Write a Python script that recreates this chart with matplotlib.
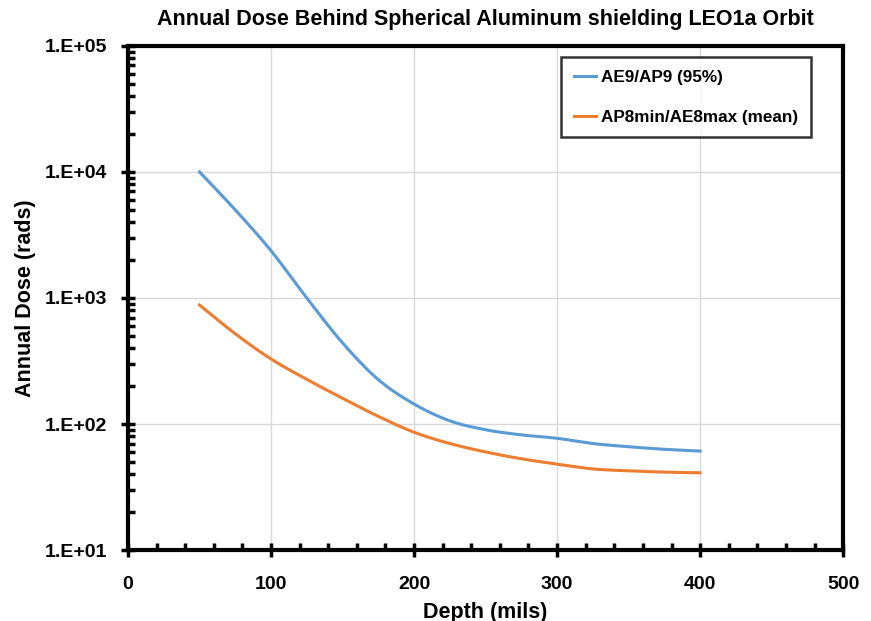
import math
import numpy as np
import matplotlib
matplotlib.use("Agg")
import matplotlib.pyplot as plt
from matplotlib.ticker import FixedLocator, FuncFormatter, LogLocator, MultipleLocator

plt.rcParams['font.family'] = ['Liberation Sans', 'DejaVu Sans']
plt.rcParams['font.weight'] = 'bold'

# values
depth = [50, 75, 100, 125, 150, 175, 200, 225, 250, 275, 300, 325, 350, 375, 400]
ae9_ap9 = [10000, 5000, 2370, 1000, 440, 225, 144, 106, 90, 82, 77, 70, 66, 63, 61]
ap8_ae8 = [879, 520, 328, 226, 160, 115, 86, 70, 60, 53, 48, 44, 42.5, 41.5, 41]


def smooth(xs, ys, n=20):
    # Excel-style smoothed line: Catmull-Rom through the points, in log-y space
    x = np.asarray(xs, float)
    y = np.log10(np.asarray(ys, float))
    px = np.concatenate([[2 * x[0] - x[1]], x, [2 * x[-1] - x[-2]]])
    py = np.concatenate([[2 * y[0] - y[1]], y, [2 * y[-1] - y[-2]]])
    t = np.linspace(0, 1, n, endpoint=False)
    ox, oy = [], []
    for i in range(1, len(px) - 2):
        for p, o in ((px, ox), (py, oy)):
            p0, p1, p2, p3 = p[i - 1], p[i], p[i + 1], p[i + 2]
            o.extend(0.5 * (2 * p1 + (-p0 + p2) * t + (2 * p0 - 5 * p1 + 4 * p2 - p3) * t ** 2
                            + (-p0 + 3 * p1 - 3 * p2 + p3) * t ** 3))
    ox.append(x[-1])
    oy.append(y[-1])
    return np.array(ox), 10 ** np.array(oy)


fig = plt.figure(figsize=(8.71, 6.21), dpi=100)
ax = fig.add_axes([0.147, 0.1143, 0.821, 0.8117])

ax.plot(*smooth(depth, ae9_ap9), color='#5b9bd5', lw=2.2, label='AE9/AP9 (95%)')
ax.plot(*smooth(depth, ap8_ae8), color='#ed7d31', lw=2.2, label='AP8min/AE8max (mean)')

ax.set_yscale('log')
ax.set_xlim(0, 500)
ax.set_ylim(10, 1e5)
ax.xaxis.set_major_locator(MultipleLocator(100))
ax.xaxis.set_minor_locator(MultipleLocator(20))
ax.yaxis.set_major_locator(FixedLocator([1e1, 1e2, 1e3, 1e4, 1e5]))
ax.yaxis.set_minor_locator(LogLocator(base=10, subs=range(2, 10)))
ax.yaxis.set_major_formatter(FuncFormatter(lambda v, p: '1.E+%02d' % round(math.log10(v))))

ax.grid(True, which='major', color='#d9d9d9', lw=1)
ax.set_axisbelow(True)
for s in ax.spines.values():
    s.set_linewidth(3)
ax.tick_params(which='major', direction='inout', length=10, width=2.5, labelsize=14)
ax.tick_params(which='minor', direction='in', length=5, width=2.5)
ax.tick_params(axis='y', which='major', pad=10)
ax.tick_params(axis='x', which='major', pad=14)

ax.set_title('Annual Dose Behind Spherical Aluminum shielding LEO1a Orbit', fontsize=15.5, fontweight='bold', pad=15)
ax.set_xlabel('Depth (mils)', fontsize=15.5, fontweight='bold', labelpad=6)
ax.set_ylabel('Annual Dose (rads)', fontsize=15.5, fontweight='bold', labelpad=6)

leg = ax.legend(loc='upper right', bbox_to_anchor=(0.955, 0.978), fontsize=12.3, frameon=True,
                fancybox=False, edgecolor='black', handlelength=1.3, handletextpad=0.3,
                labelspacing=1.45, borderpad=0.75, borderaxespad=0)
leg.get_frame().set_linewidth(1.8)

fig.savefig('out.png', dpi=100)
